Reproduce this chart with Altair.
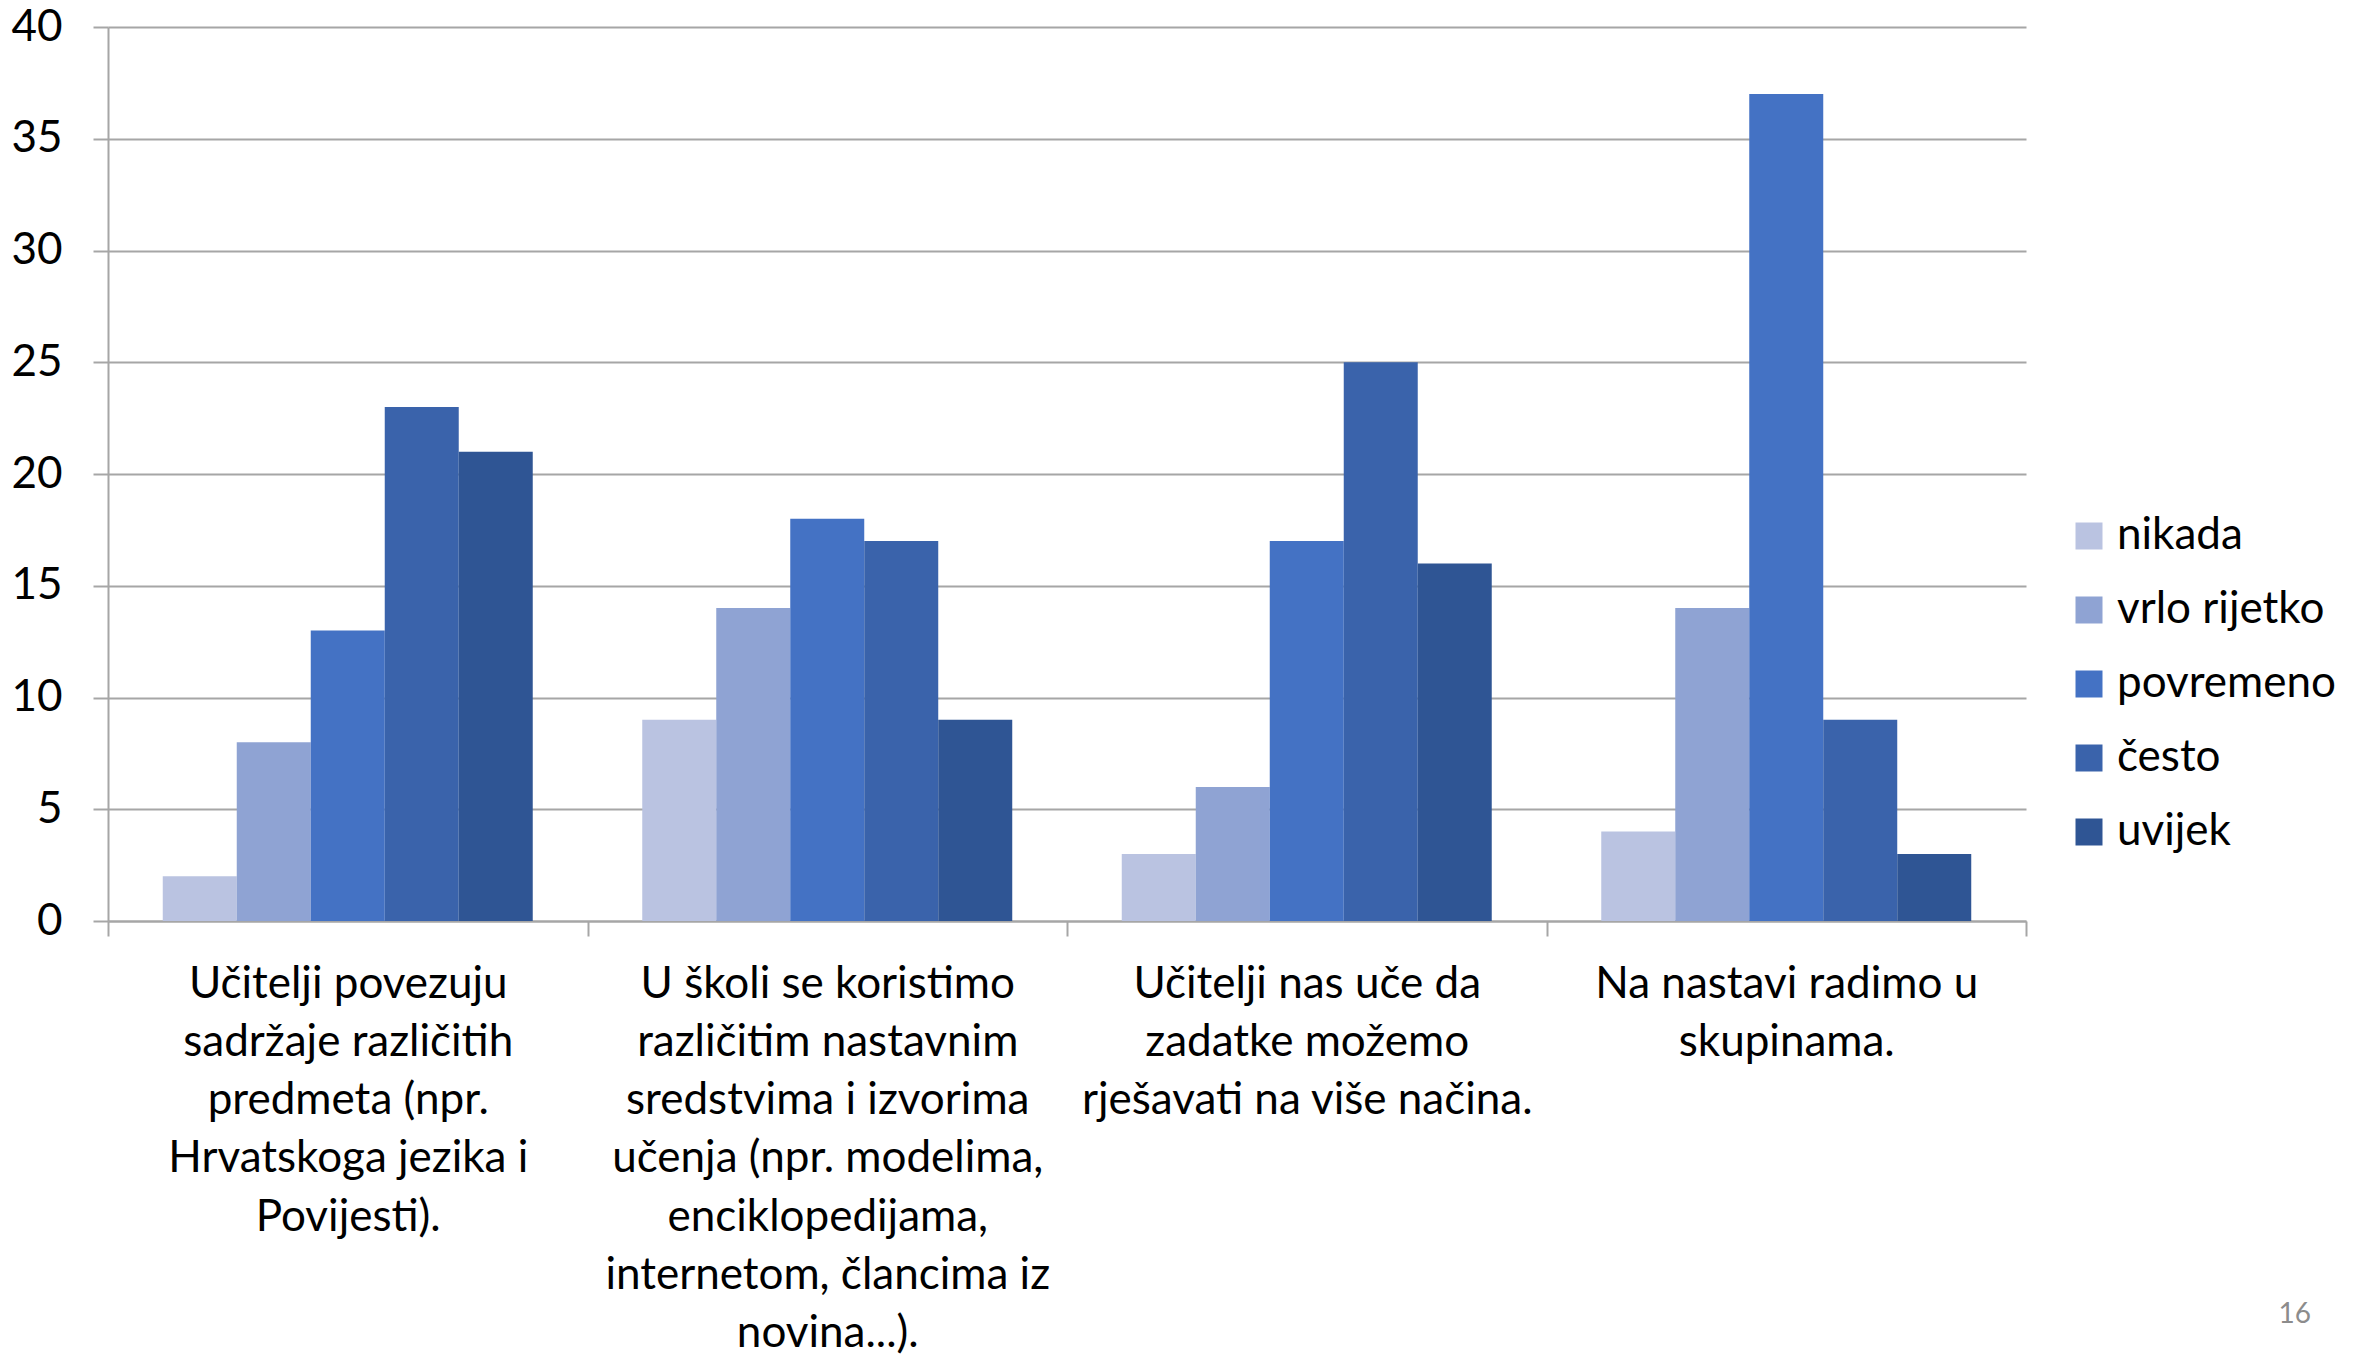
import altair as alt
import pandas as pd

categories = [
    "Učitelji povezuju|sadržaje različitih|predmeta (npr.|Hrvatskoga jezika i|Povijesti).",
    "U školi se koristimo|različitim nastavnim|sredstvima i izvorima|učenja (npr. modelima,|enciklopedijama,|internetom, člancima iz|novina...).",
    "Učitelji nas uče da|zadatke možemo|rješavati na više načina.",
    "Na nastavi radimo u|skupinama.",
]
series = ["nikada", "vrlo rijetko", "povremeno", "često", "uvijek"]
colors = ["#BAC3E1", "#8FA3D3", "#4472C4", "#3A63AB", "#2F5594"]
nikada = [2, 9, 3, 4]
vrlo_rijetko = [8, 14, 6, 14]
povremeno = [13, 18, 17, 37]
cesto = [23, 17, 25, 9]
uvijek = [21, 9, 16, 3]
page_number = ["16"]

values = [nikada, vrlo_rijetko, povremeno, cesto, uvijek]
rows = []
for s, vals in zip(series, values):
    for c, v in zip(categories, vals):
        rows.append({"kategorija": c, "odgovor": s, "broj": v})
df = pd.DataFrame(rows)

FONT = "Lato"
GRAY = "#A6A6A6"

bars = alt.Chart(df).mark_bar().encode(
    x=alt.X(
        "kategorija:N",
        sort=categories,
        title=None,
        scale=alt.Scale(paddingInner=0, paddingOuter=0),
        axis=alt.Axis(
            labelAngle=0,
            labelExpr="split(datum.label, '|')",
            labelFontSize=44,
            labelLineHeight=58.3,
            labelLimit=800,
            labelPadding=26,
            labelColor="#000000",
            tickBand="extent",
            tickSize=15,
            tickColor=GRAY,
            tickWidth=2,
            domainColor=GRAY,
            domainWidth=2,
            grid=False,
        ),
    ),
    xOffset=alt.XOffset(
        "odgovor:N",
        sort=series,
        scale=alt.Scale(paddingInner=0, paddingOuter=0.74),
    ),
    y=alt.Y(
        "broj:Q",
        title=None,
        scale=alt.Scale(domain=[0, 40], nice=False),
        axis=alt.Axis(
            values=[0, 5, 10, 15, 20, 25, 30, 35, 40],
            labelFontSize=44,
            labelPadding=31,
            labelColor="#000000",
            tickSize=15,
            tickColor=GRAY,
            tickWidth=2,
            domainColor=GRAY,
            domainWidth=2,
            grid=True,
            gridColor=GRAY,
            gridWidth=2,
        ),
    ),
    color=alt.Color(
        "odgovor:N",
        sort=series,
        scale=alt.Scale(domain=series, range=colors),
        legend=alt.Legend(
            title=None,
            orient="none",
            legendX=1959,
            legendY=487,
            symbolType="square",
            symbolSize=729,
            symbolStrokeWidth=0,
            labelFontSize=44,
            labelOffset=6,
            labelLimit=600,
            labelColor="#000000",
            rowPadding=30,
            padding=0,
        ),
    ),
)

page = alt.Chart(pd.DataFrame({"t": page_number})).mark_text(
    align="right", baseline="alphabetic", fontSize=28, color="#8C8C8C", font=FONT
).encode(text="t:N", x=alt.value(2203), y=alt.value(1296))

chart = alt.layer(bars, page).properties(
    width=1918,
    height=894,
    autosize=alt.AutoSizeParams(type="none"),
    padding={"left": 100, "top": 19, "right": 330, "bottom": 433},
).configure(font=FONT).configure_view(stroke=None)

chart.save("out.html", embed_options={"renderer": "svg", "actions": False})
